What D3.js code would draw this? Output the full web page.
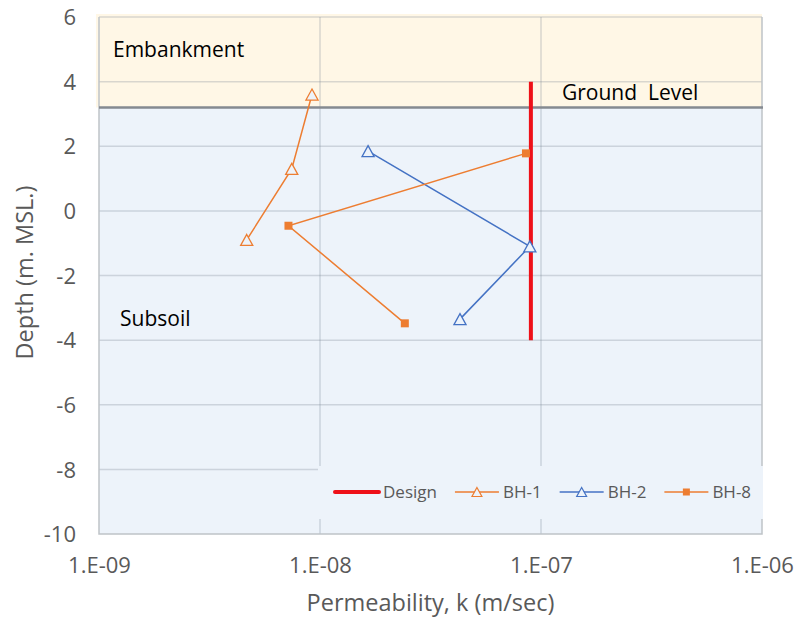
<!DOCTYPE html>
<html>
<head>
<meta charset="utf-8">
<script src="https://cdn.jsdelivr.net/npm/d3@7"></script>
<style>
  html, body { margin: 0; padding: 0; background: #fff; }
  svg { display: block; font-family: "Open Sans", "Noto Sans", sans-serif; }
</style>
</head>
<body>
<svg id="chart" width="796" height="620"></svg>
<script>
// Permeability profile data (k in m/sec, depth in m. MSL.)
const xTicks = [1e-9, 1e-8, 1e-7, 1e-6];
const xTickLabels = ["1.E-09", "1.E-08", "1.E-07", "1.E-06"];
const yTicks = [6, 4, 2, 0, -2, -4, -6, -8, -10];
const groundLevel = 3.2;

const designK = [9e-8, 9e-8];
const designDepth = [4, -4];

const bh1K = [9.2e-9, 7.45e-9, 4.66e-9];
const bh1Depth = [3.6, 1.3, -0.9];

const bh2K = [1.65e-8, 8.9e-8, 4.3e-8];
const bh2Depth = [1.85, -1.1, -3.35];

const bh8K = [8.55e-8, 7.2e-9, 2.42e-8];
const bh8Depth = [1.78, -0.46, -3.48];

const seriesNames = ["Design", "BH-1", "BH-2", "BH-8"];

const C = {
  red: "#EE1018",
  orange: "#ED7D31",
  blue: "#4472C4",
  embank: "#FFF7E6",
  subsoil: "#EDF3FA",
  grid: "rgba(120,130,145,0.28)",
  axis: "#BFC3C8",
  ground: "#858A90",
  label: "#595959"
};

const svg = d3.select("#chart");
const pl = 99, pr = 762, pt = 17, pb = 534;

const x = d3.scaleLog().domain([1e-9, 1e-6]).range([pl, pr]);
const y = d3.scaleLinear().domain([6, -10]).range([pt, pb]);

// Zone backgrounds
svg.append("rect")
  .attr("x", pl - 3).attr("y", y(6) - 3)
  .attr("width", pr - pl + 3).attr("height", y(groundLevel) - y(6) + 3)
  .attr("fill", C.embank);
svg.append("rect")
  .attr("x", pl).attr("y", y(groundLevel))
  .attr("width", pr - pl).attr("height", y(-10) - y(groundLevel))
  .attr("fill", C.subsoil);

// Gridlines
const grid = svg.append("g");
grid.selectAll("line.h").data(yTicks.filter(d => d !== -10)).join("line")
  .attr("x1", pl).attr("x2", pr)
  .attr("y1", d => y(d)).attr("y2", d => y(d))
  .attr("stroke", C.grid).attr("stroke-width", 1.5);
grid.selectAll("line.v").data(xTicks.slice(1, 3)).join("line")
  .attr("x1", d => x(d)).attr("x2", d => x(d))
  .attr("y1", pt).attr("y2", pb)
  .attr("stroke", C.grid).attr("stroke-width", 1.5);

// Plot frame (left, bottom, right)
svg.append("path")
  .attr("d", `M${pl},${pt}V${pb}H${pr}V${pt}`)
  .attr("fill", "none").attr("stroke", C.axis).attr("stroke-width", 1.5);

// Ground level line
svg.append("line")
  .attr("x1", pl).attr("x2", pr + 1)
  .attr("y1", y(groundLevel)).attr("y2", y(groundLevel))
  .attr("stroke", C.ground).attr("stroke-width", 2.5);

// Legend background (covers the gridlines underneath)
const legBox = { x0: 318, x1: pr + 1, y0: 466, y1: 519 };
svg.append("rect")
  .attr("x", legBox.x0).attr("y", legBox.y0)
  .attr("width", legBox.x1 - legBox.x0).attr("height", legBox.y1 - legBox.y0)
  .attr("fill", C.subsoil);

// Axis tick labels
const xAxis = d3.axisBottom(x).tickValues(xTicks)
  .tickFormat((d, i) => xTickLabels[i]).tickSize(0).tickPadding(0);
const gx = svg.append("g").attr("transform", `translate(0,${pb})`).call(xAxis);
gx.select(".domain").remove();
gx.selectAll("text")
  .attr("y", 39).attr("dy", 0)
  .attr("fill", C.label).style("font-size", "22px")
  .style("font-family", "\"Open Sans\", sans-serif");

const yAxis = d3.axisLeft(y).tickValues(yTicks)
  .tickFormat(d => String(d)).tickSize(0).tickPadding(0);
const gy = svg.append("g").attr("transform", `translate(${pl},0)`).call(yAxis);
gy.select(".domain").remove();
gy.selectAll("text")
  .attr("x", -23).attr("dy", "0.35em")
  .attr("fill", C.label).style("font-size", "22px")
  .style("font-family", "\"Open Sans\", sans-serif");

// Axis titles
svg.append("text")
  .attr("x", (pl + pr) / 2).attr("y", 611)
  .attr("text-anchor", "middle").attr("fill", C.label)
  .style("font-size", "23.5px")
  .text("Permeability, k (m/sec)");
svg.append("text")
  .attr("transform", `translate(33,${(pt + pb) / 2 - 3}) rotate(-90)`)
  .attr("text-anchor", "middle").attr("fill", C.label)
  .style("font-size", "23.5px")
  .text("Depth (m. MSL.)");

// Zone labels
svg.append("text").attr("x", 113).attr("y", 57)
  .attr("fill", "#000").style("font-size", "21px").text("Embankment");
svg.append("text").attr("x", 562).attr("y", 100)
  .attr("fill", "#000").style("font-size", "21px")
  .style("white-space", "pre")
  .text("Ground  Level");
svg.append("text").attr("x", 120).attr("y", 326)
  .attr("fill", "#000").style("font-size", "21px").text("Subsoil");

// Series
const line = d3.line().x(d => x(d.k)).y(d => y(d.z));
const zip = (ks, zs) => ks.map((k, i) => ({ k, z: zs[i] }));

const design = zip(designK, designDepth);
const bh1 = zip(bh1K, bh1Depth);
const bh2 = zip(bh2K, bh2Depth);
const bh8 = zip(bh8K, bh8Depth);

const triPath = (s) => `M0,${-s * 0.5}L${s * 0.55},${s * 0.5}L${-s * 0.55},${s * 0.5}Z`;

function drawTriangles(g, data, color, size) {
  g.selectAll(null).data(data).join("path")
    .attr("transform", d => `translate(${x(d.k)},${y(d.z)})`)
    .attr("d", triPath(size))
    .attr("fill", C.subsoil).attr("stroke", color).attr("stroke-width", 1.3);
}

svg.append("path").datum(bh1).attr("d", line)
  .attr("fill", "none").attr("stroke", C.orange).attr("stroke-width", 1.5);
svg.append("path").datum(bh2).attr("d", line)
  .attr("fill", "none").attr("stroke", C.blue).attr("stroke-width", 1.5);
svg.append("path").datum(bh8).attr("d", line)
  .attr("fill", "none").attr("stroke", C.orange).attr("stroke-width", 1.5);

svg.append("path").datum(design).attr("d", line)
  .attr("fill", "none").attr("stroke", C.red).attr("stroke-width", 4);

const mk = svg.append("g");
drawTriangles(mk.append("g"), bh1, C.orange, 11);
drawTriangles(mk.append("g"), bh2, C.blue, 11);
mk.append("g").selectAll(null).data(bh8).join("rect")
  .attr("x", d => x(d.k) - 4).attr("y", d => y(d.z) - 4)
  .attr("width", 8).attr("height", 8)
  .attr("fill", C.orange);

// Legend
const legY = 492;
const legItems = [
  { name: seriesNames[0], color: C.red, kind: "thick" },
  { name: seriesNames[1], color: C.orange, kind: "tri" },
  { name: seriesNames[2], color: C.blue, kind: "tri" },
  { name: seriesNames[3], color: C.orange, kind: "sq" }
];
const lg = svg.append("g");
let cx = 335;
legItems.forEach(it => {
  const sw = 44;
  lg.append("line")
    .attr("x1", cx).attr("x2", cx + sw).attr("y1", legY).attr("y2", legY)
    .attr("stroke", it.color).attr("stroke-width", it.kind === "thick" ? 4 : 1.5)
    .attr("stroke-linecap", it.kind === "thick" ? "round" : "butt");
  if (it.kind === "tri") {
    lg.append("path").attr("transform", `translate(${cx + sw / 2},${legY})`)
      .attr("d", triPath(9))
      .attr("fill", C.subsoil).attr("stroke", it.color).attr("stroke-width", 1.2);
  } else if (it.kind === "sq") {
    lg.append("rect").attr("x", cx + sw / 2 - 3.5).attr("y", legY - 3.5)
      .attr("width", 7).attr("height", 7).attr("fill", it.color);
  }
  const t = lg.append("text")
    .attr("x", cx + sw + 4).attr("y", legY).attr("dy", "0.36em")
    .attr("fill", C.label).style("font-size", "17px")
    .text(it.name);
  cx = cx + sw + 4 + t.node().getComputedTextLength() + 18;
});
</script>
</body>
</html>
